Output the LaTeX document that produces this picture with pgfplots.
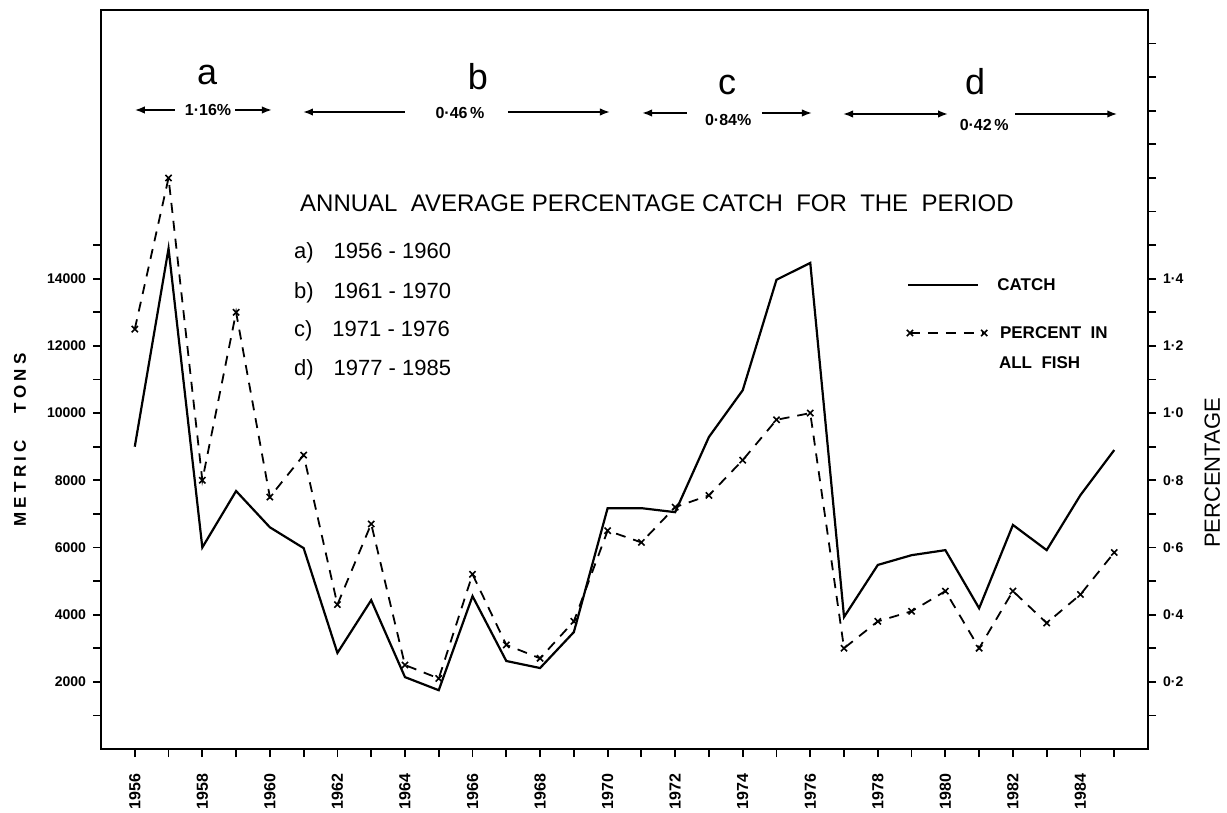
\documentclass[border=0pt]{standalone}
\usepackage{fontspec}
\setmainfont{Liberation Sans}
\usepackage{pgfplots}
\pgfplotsset{compat=1.18}
\usetikzlibrary{arrows.meta}

\pgfplotstableread{
year catch
1956 9000
1957 14900
1958 6000
1959 7680
1960 6600
1961 5980
1962 2860
1963 4430
1964 2140
1965 1750
1966 4550
1967 2620
1968 2410
1969 3480
1970 7170
1971 7170
1972 7050
1973 9290
1974 10680
1975 13970
1976 14470
1977 3930
1978 5480
1979 5770
1980 5920
1981 4190
1982 6670
1983 5920
1984 7560
1985 8900
}\catchdata

\pgfplotstableread{
year pct
1956 1.25
1957 1.70
1958 0.80
1959 1.30
1960 0.75
1961 0.875
1962 0.43
1963 0.67
1964 0.25
1965 0.21
1966 0.52
1967 0.31
1968 0.27
1969 0.38
1970 0.65
1971 0.615
1972 0.72
1973 0.755
1974 0.86
1975 0.98
1976 1.00
1977 0.30
1978 0.38
1979 0.41
1980 0.47
1981 0.30
1982 0.47
1983 0.375
1984 0.46
1985 0.585
}\pctdata

\begin{document}
\begin{tikzpicture}
\pgfplotsset{
  common/.style={
    scale only axis, width=523.5pt, height=369.5pt,
    xmin=1955, xmax=1986,
    tick align=outside,
    major tick length=4pt, minor tick length=4pt,
    tick style={line width=0.9pt, black},
    clip=false,
  },
  catchstyle/.style={black, line width=1.1pt, no marks},
  pctstyle/.style={black, line width=0.9pt, dash pattern=on 5pt off 4pt,
    mark=x, mark size=2.2pt, mark options={solid, line width=0.8pt}},
}
\begin{axis}[common,
  ymin=0, ymax=22000,
  axis line style={line width=1.1pt},
  xtick pos=left, ytick pos=left,
  xtick={1956,1958,1960,1962,1964,1966,1968,1970,1972,1974,1976,1978,1980,1982,1984},
  xticklabels={1956,1958,1960,1962,1964,1966,1968,1970,1972,1974,1976,1978,1980,1982,1984},
  minor xtick={1957,1959,1961,1963,1965,1967,1969,1971,1973,1975,1977,1979,1981,1983,1985},
  ytick={2000,4000,6000,8000,10000,12000,14000},
  yticklabels={2000,4000,6000,8000,10000,12000,14000},
  minor ytick={1000,3000,5000,7000,9000,11000,13000,15000},
  scaled y ticks=false,
  y tick label style={font=\bfseries\fontsize{7}{8}\selectfont},
  x tick label style={rotate=90, anchor=east, font=\bfseries\fontsize{8}{8}\selectfont},
  xticklabel shift=5pt,
]
\addplot[catchstyle] table[x=year, y=catch] {\catchdata};

% legend samples
\addplot[catchstyle] coordinates {(1978.9,13813) (1980.97,13813)};
\addplot[pctstyle] coordinates {(1978.95,12384) (1981.15,12384)};
\node[anchor=west, font=\bfseries\fontsize{8.5}{9}\selectfont] at (axis cs:1981.33,13813) {CATCH};
\node[anchor=west, font=\bfseries\fontsize{8.5}{9}\selectfont] at (axis cs:1981.41,12384) {PERCENT\ \ IN};
\node[anchor=west, font=\bfseries\fontsize{8.5}{9}\selectfont] at (axis cs:1981.38,11491) {ALL\ \ FISH};

% period letters
\node[font=\fontsize{18}{18}\selectfont] at (axis cs:1958.14,20065) {a};
\node[font=\fontsize{18}{18}\selectfont] at (axis cs:1966.16,20005) {b};
\node[font=\fontsize{18}{18}\selectfont] at (axis cs:1973.54,19767) {c};
\node[font=\fontsize{18}{18}\selectfont] at (axis cs:1980.88,19856) {d};

% period arrows
\draw[line width=0.9pt, {Latex[length=5pt]}-] (axis cs:1956,19023) -- (axis cs:1957.19,19023);
\draw[line width=0.9pt, -{Latex[length=5pt]}] (axis cs:1958.97,19023) -- (axis cs:1960.06,19023);
\node[font=\bfseries\fontsize{8}{8}\selectfont] at (axis cs:1958.17,19023) {1·16\%};

\draw[line width=0.9pt, {Latex[length=5pt]}-] (axis cs:1960.98,18963) -- (axis cs:1964.0,18963);
\draw[line width=0.9pt, -{Latex[length=5pt]}] (axis cs:1967.05,18963) -- (axis cs:1970.07,18963);
\node[font=\bfseries\fontsize{8}{8}\selectfont] at (axis cs:1965.63,18934) {0·46\,\%};

\draw[line width=0.9pt, {Latex[length=5pt]}-] (axis cs:1971.02,18934) -- (axis cs:1972.35,18934);
\draw[line width=0.9pt, -{Latex[length=5pt]}] (axis cs:1974.57,18934) -- (axis cs:1976.05,18934);
\node[font=\bfseries\fontsize{8}{8}\selectfont] at (axis cs:1973.57,18725) {0·84\%};

\draw[line width=0.9pt, {Latex[length=5pt]}-{Latex[length=5pt]}] (axis cs:1976.97,18904) -- (axis cs:1980.08,18904);
\draw[line width=0.9pt, -{Latex[length=5pt]}] (axis cs:1982.07,18904) -- (axis cs:1985.09,18904);
\node[font=\bfseries\fontsize{8}{8}\selectfont] at (axis cs:1981.15,18576) {0·42\,\%};

% title and periods
\node[font=\fontsize{12}{12}\selectfont] at (axis cs:1971.46,16254) {ANNUAL\ \ AVERAGE PERCENTAGE CATCH\ \ FOR\ \ THE\ \ PERIOD};
\node[anchor=west, font=\fontsize{11}{11}\selectfont] at (axis cs:1960.51,14766) {a)\hspace{10pt}1956 - 1960};
\node[anchor=west, font=\fontsize{11}{11}\selectfont] at (axis cs:1960.51,13575) {b)\hspace{10pt}1961 - 1970};
\node[anchor=west, font=\fontsize{11}{11}\selectfont] at (axis cs:1960.51,12444) {c)\hspace{10pt}1971 - 1976};
\node[anchor=west, font=\fontsize{11}{11}\selectfont] at (axis cs:1960.51,11283) {d)\hspace{10pt}1977 - 1985};

% axis titles
\node[rotate=90, font=\bfseries\fontsize{8.5}{9}\selectfont\addfontfeature{LetterSpace=25}] at (axis cs:1952.6,9199) {METRIC\ \ \ TONS};
\node[rotate=90, font=\fontsize{11}{11}\selectfont] at (axis cs:1987.9,8216) {PERCENTAGE};

\coordinate (SW) at (rel axis cs:0,0);
\coordinate (NE) at (rel axis cs:1,1);
\end{axis}

\begin{axis}[common,
  ymin=0, ymax=2.2,
  axis x line=none, axis y line*=right,
  axis line style={line width=1.1pt},
  ytick={0.2,0.4,0.6,0.8,1.0,1.2,1.4},
  yticklabels={0·2,0·4,0·6,0·8,1·0,1·2,1·4},
  minor ytick={0.1,0.3,0.5,0.7,0.9,1.1,1.3,1.5,1.6,1.7,1.8,1.9,2.0,2.1},
  y tick label style={font=\bfseries\fontsize{7}{8}\selectfont},
]
\addplot[pctstyle] table[x=year, y=pct] {\pctdata};
\end{axis}

\pgfresetboundingbox
\path ([xshift=-50.5pt,yshift=-31.5pt]SW) rectangle ([xshift=39.5pt,yshift=5pt]NE);
\end{tikzpicture}
\end{document}
